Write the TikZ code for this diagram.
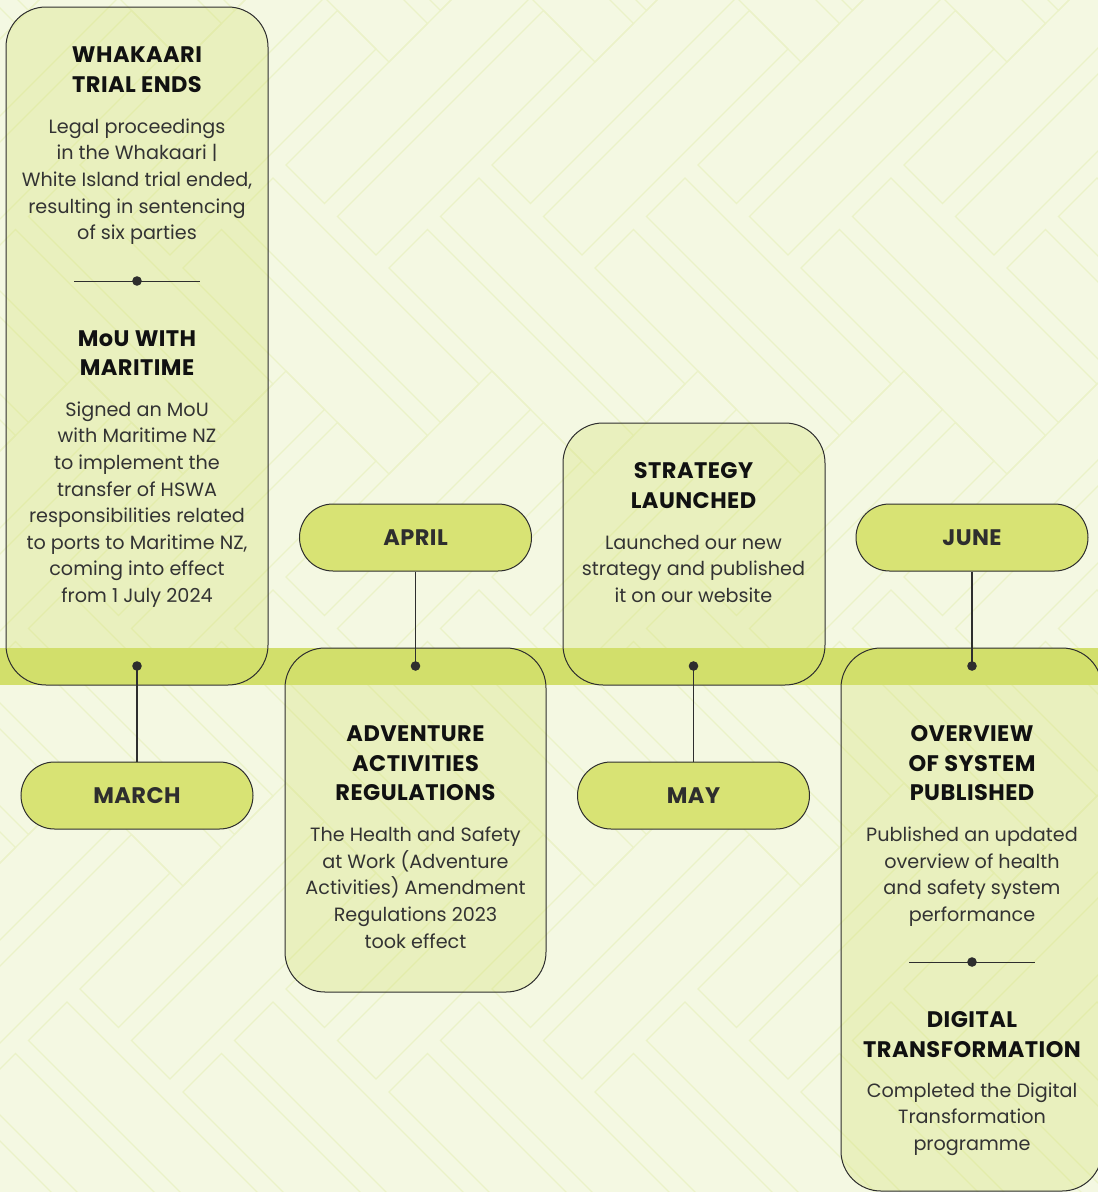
\documentclass[tikz,border=0pt]{standalone}
\usepackage{fontspec}
\setmainfont{Poppins}
\definecolor{bgc}{HTML}{F4F8E2}
\definecolor{patc}{HTML}{EBF2C8}
\definecolor{bandc}{HTML}{D2DF6B}
\definecolor{pillc}{HTML}{D8E374}
\definecolor{linec}{HTML}{2E2E2E}
\definecolor{titlec}{HTML}{111111}
\definecolor{bodyc}{HTML}{333333}
\newcommand\mys{\rule[-0.3em]{0pt}{1.0em}}
\tikzset{
  patline/.style={draw=patc, line width=1.2pt},
  boxfill/.style={fill=bandc, fill opacity=0.3, rounded corners=40pt},
  boxline/.style={draw=linec, line width=1pt, rounded corners=40pt},
  pill/.style={draw=linec, line width=1pt, fill=pillc, minimum width=232pt, minimum height=67pt,
    rounded corners=33.5pt, inner sep=0pt, text=linec,
    font=\fontsize{22.5}{25}\selectfont\bfseries\addfontfeatures{LetterSpace=2}},
  conn/.style={draw=linec, line width=1.2pt},
  ttl/.style={align=center, inner sep=0pt, text=titlec, yshift=-4.5pt,
    font=\fontsize{22.5}{29.5}\selectfont\bfseries\addfontfeatures{LetterSpace=2},
    execute at begin node=\mys, execute at end node=\mys},
  bdy/.style={align=center, inner sep=0pt, text=bodyc, yshift=-3pt,
    font=\fontsize{19.2}{26.6}\selectfont,
    execute at begin node=\mys, execute at end node=\mys},
}
\begin{document}
\begin{tikzpicture}[x=1pt,y=-1pt]
\useasboundingbox (0,0) rectangle (1098,1192);
\fill[bgc] (0,0) rectangle (1098,1192);
% faint herringbone background pattern (axes rotated by 45 degrees)
\begin{scope}
\clip (0,0) rectangle (1098,1192);
\begin{scope}[x={(0.5pt,-0.5pt)}, y={(0.5pt,0.5pt)}]
\foreach \k in {-11,...,10}{
  \foreach \m in {-3,...,4}{
    \pgfmathsetmacro\ua{451+206*\k+618*\m}
    \pgfmathsetmacro\va{121+206*\k-206*\m}
    \pgfmathsetmacro\ub{\ua+206}
    \pgfmathsetmacro\uc{\ua+103}
    \pgfmathsetmacro\vc{\va+103}
    \draw[patline] (\ua,\va) -- ++(77,0) -- ++(0,412) -- ++(-77,0) -- cycle;
    \draw[patline] (\uc,\va) -- ++(77,0) -- ++(0,412) -- ++(-77,0) -- cycle;
    \draw[patline] (\ub,\va) -- ++(412,0) -- ++(0,77) -- ++(-412,0) -- cycle;
    \draw[patline] (\ub,\vc) -- ++(412,0) -- ++(0,77) -- ++(-412,0) -- cycle;
  }}
\end{scope}
\end{scope}
% box fills
\fill[boxfill] (6,7) rectangle (268,685);
\fill[boxfill] (285,648) rectangle (546,992);
\fill[boxfill] (563,423) rectangle (825,685);
\fill[boxfill] (841,648) rectangle (1102,1191);
% band
\fill[bandc] (0,648) rectangle (1098,685);
% box outlines
\draw[boxline] (6,7) rectangle (268,685);
\draw[boxline] (285,648) rectangle (546,992);
\draw[boxline] (563,423) rectangle (825,685);
\draw[boxline] (841,648) rectangle (1102,1191);
% dots on timeline
\coordinate (d1) at (137,666);
\coordinate (d2) at (415.5,666);
\coordinate (d3) at (693.5,666);
\coordinate (d4) at (972,666);
% pills
\node[pill] (march) at (137,795.5) {MARCH};
\node[pill] (april) at (415.5,537.5) {APRIL};
\node[pill] (may) at (693.5,795.5) {MAY};
\node[pill] (june) at (972,537.5) {JUNE};
% connectors
\draw[conn] (d1) -- (march.north);
\draw[conn] (april.south) -- (d2);
\draw[conn] (d3) -- (may.north);
\draw[conn] (june.south) -- (d4);
\foreach \d in {d1,d2,d3,d4} \fill[linec] (\d) circle (4.8pt);
% dividers
\coordinate (s1a) at (74,281); \coordinate (s1b) at (200,281); \coordinate (s1c) at (137,281);
\draw[conn, line width=1pt] (s1a) -- (s1b);
\fill[linec] (s1c) circle (4.8pt);
\coordinate (s2a) at (909,962); \coordinate (s2b) at (1035,962); \coordinate (s2c) at (972,962);
\draw[conn, line width=1pt] (s2a) -- (s2b);
\fill[linec] (s2c) circle (4.8pt);
% texts box 1
\node[ttl] (t1) at (137,68.5) {WHAKAARI\\TRIAL ENDS};
\node[bdy] (b1) at (137,179) {Legal proceedings\\in the Whakaari |\\White Island trial ended,\\resulting in sentencing\\of six parties};
\node[ttl] (t2) at (137,352) {MoU WITH\\MARITIME};
\node[bdy] (b2) at (137,502) {Signed an MoU\\with Maritime NZ\\to implement the\\transfer of HSWA\\responsibilities related\\to ports to Maritime NZ,\\coming into effect\\from 1 July 2024};
% box 2
\node[ttl] (t3) at (415.5,762) {ADVENTURE\\ACTIVITIES\\REGULATIONS};
\node[bdy] (b3) at (415.5,887.5) {The Health and Safety\\at Work (Adventure\\Activities) Amendment\\Regulations 2023\\took effect};
% box 3
\node[ttl] (t4) at (693.5,484.5) {STRATEGY\\LAUNCHED};
\node[bdy] (b4) at (693.5,568.5) {Launched our new\\strategy and published\\it on our website};
% box 4
\node[ttl] (t5) at (972,762) {OVERVIEW\\OF SYSTEM\\PUBLISHED};
\node[bdy] (b5) at (972,874) {Published an updated\\overview of health\\and safety system\\performance};
\node[ttl] (t6) at (972,1033.5) {DIGITAL\\TRANSFORMATION};
\node[bdy] (b6) at (972,1116.5) {Completed the Digital\\Transformation\\programme};
\end{tikzpicture}
\end{document}
